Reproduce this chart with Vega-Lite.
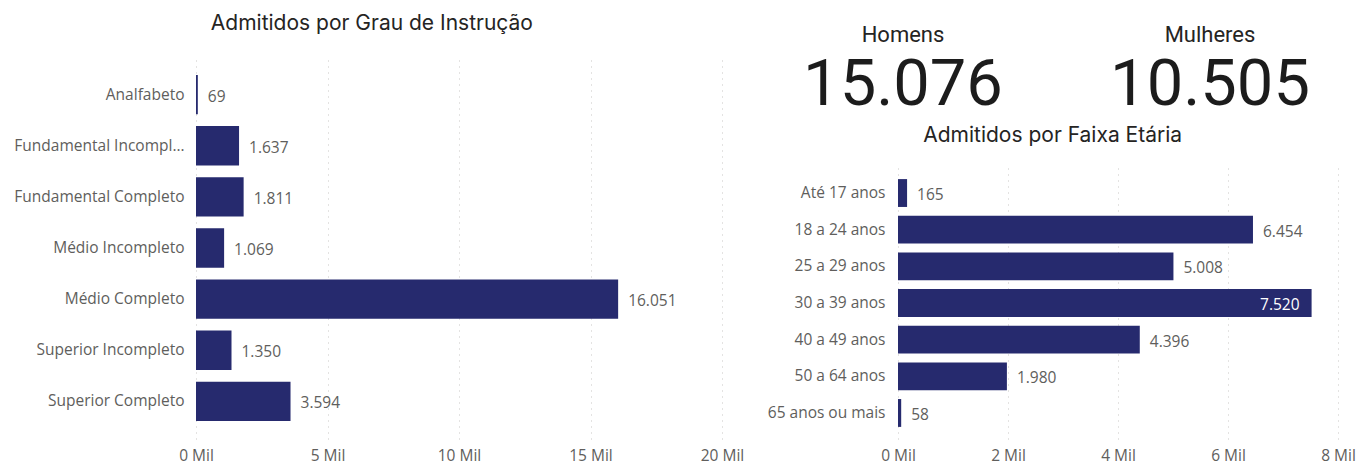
{
  "$schema": "https://vega.github.io/schema/vega-lite/v6.json",
  "padding": {"left": 0, "top": 13, "right": 0, "bottom": 0},
  "background": "#ffffff",
  "config": {
    "locale": {"number": {"decimal": ",", "thousands": ".", "grouping": [3], "currency": ["R$", ""]}},
    "view": {"stroke": null},
    "font": "Open Sans",
    "axis": {"domain": false, "ticks": false, "labelFont": "Open Sans", "labelFontSize": 15.5, "labelColor": "#605E5C", "title": null},
    "title": {"font": "Inter", "fontSize": 21, "fontWeight": "normal", "color": "#252423", "anchor": "middle", "frame": "bounds"}
  },
  "concat": [
    {
      "width": 526,
      "height": 382,
      "title": {"text": "Admitidos por Grau de Instrução", "offset": 23},
      "data": {"values": [
        {"grau": "Analfabeto", "admitidos": 69},
        {"grau": "Fundamental Incompleto", "admitidos": 1637},
        {"grau": "Fundamental Completo", "admitidos": 1811},
        {"grau": "Médio Incompleto", "admitidos": 1069},
        {"grau": "Médio Completo", "admitidos": 16051},
        {"grau": "Superior Incompleto", "admitidos": 1350},
        {"grau": "Superior Completo", "admitidos": 3594}
      ]},
      "encoding": {
        "y": {"field": "grau", "type": "nominal", "sort": null,
              "scale": {"paddingInner": 0.23, "paddingOuter": 0.35},
              "axis": {"labelPadding": 12, "labelLimit": 172, "minExtent": 196, "maxExtent": 196}},
        "x": {"field": "admitidos", "type": "quantitative",
              "scale": {"domain": [0, 20000], "nice": false},
              "axis": {"values": [0, 5000, 10000, 15000, 20000], "labelExpr": "datum.value / 1000 + ' Mil'",
                       "labelFlush": false, "labelPadding": 9, "grid": true, "gridDash": [1, 5], "gridColor": "#C8C6C4"}}
      },
      "layer": [
        {"mark": {"type": "bar", "color": "#262A6E"}},
        {"mark": {"type": "text", "align": "left", "baseline": "middle", "dx": 10, "dy": 2, "fontSize": 15.5, "color": "#605E5C"},
         "encoding": {"text": {"field": "admitidos", "type": "quantitative", "format": ",d"}}}
      ]
    },
    {
      "concat": [
        {
          "width": 440,
          "height": 64,
          "data": {"values": [
            {"sexo": "Homens", "total": 15076},
            {"sexo": "Mulheres", "total": 10505}
          ]},
          "encoding": {"x": {"field": "sexo", "type": "nominal", "axis": null, "sort": null,
                             "scale": {"type": "point", "padding": 0.2166, "align": 0.0376}}},
          "layer": [
            {"mark": {"type": "text", "font": "Roboto", "fontSize": 22, "color": "#252423", "baseline": "alphabetic", "dy": -47},
             "encoding": {"text": {"field": "sexo"}}},
            {"mark": {"type": "text", "font": "Roboto", "fontSize": 65, "color": "#1c1c1c", "baseline": "alphabetic", "dy": 16},
             "encoding": {"text": {"field": "total", "type": "quantitative", "format": ",d"}}}
          ]
        },
        {
          "width": 440,
          "height": 272,
          "title": {"text": "Admitidos por Faixa Etária", "offset": 21},
          "data": {"values": [
            {"faixa": "Até 17 anos", "admitidos": 165},
            {"faixa": "18 a 24 anos", "admitidos": 6454},
            {"faixa": "25 a 29 anos", "admitidos": 5008},
            {"faixa": "30 a 39 anos", "admitidos": 7520},
            {"faixa": "40 a 49 anos", "admitidos": 4396},
            {"faixa": "50 a 64 anos", "admitidos": 1980},
            {"faixa": "65 anos ou mais", "admitidos": 58}
          ]},
          "encoding": {
            "y": {"field": "faixa", "type": "nominal", "sort": null,
                  "scale": {"paddingInner": 0.24, "paddingOuter": 0.33},
                  "axis": {"labelPadding": 13, "minExtent": 148, "maxExtent": 148}},
            "x": {"field": "admitidos", "type": "quantitative",
                  "scale": {"domain": [0, 8000], "nice": false},
                  "axis": {"values": [0, 2000, 4000, 6000, 8000], "labelExpr": "datum.value / 1000 + ' Mil'",
                           "labelFlush": false, "labelPadding": 9, "grid": true, "gridDash": [1, 5], "gridColor": "#C8C6C4"}}
          },
          "layer": [
            {"mark": {"type": "bar", "color": "#262A6E"}},
            {"transform": [{"filter": "datum.admitidos < 7000"}],
             "mark": {"type": "text", "align": "left", "baseline": "middle", "dx": 10, "dy": 2, "fontSize": 15.5, "color": "#605E5C"},
             "encoding": {"text": {"field": "admitidos", "type": "quantitative", "format": ",d"}}},
            {"transform": [{"filter": "datum.admitidos >= 7000"}],
             "mark": {"type": "text", "align": "right", "baseline": "middle", "dx": -12, "dy": 2, "fontSize": 15.5, "color": "#ffffff"},
             "encoding": {"text": {"field": "admitidos", "type": "quantitative", "format": ",d"}}}
          ]
        }
      ],
      "columns": 1,
      "align": "none",
      "spacing": 4
    }
  ],
  "columns": 2,
  "align": "none",
  "spacing": 6
}
